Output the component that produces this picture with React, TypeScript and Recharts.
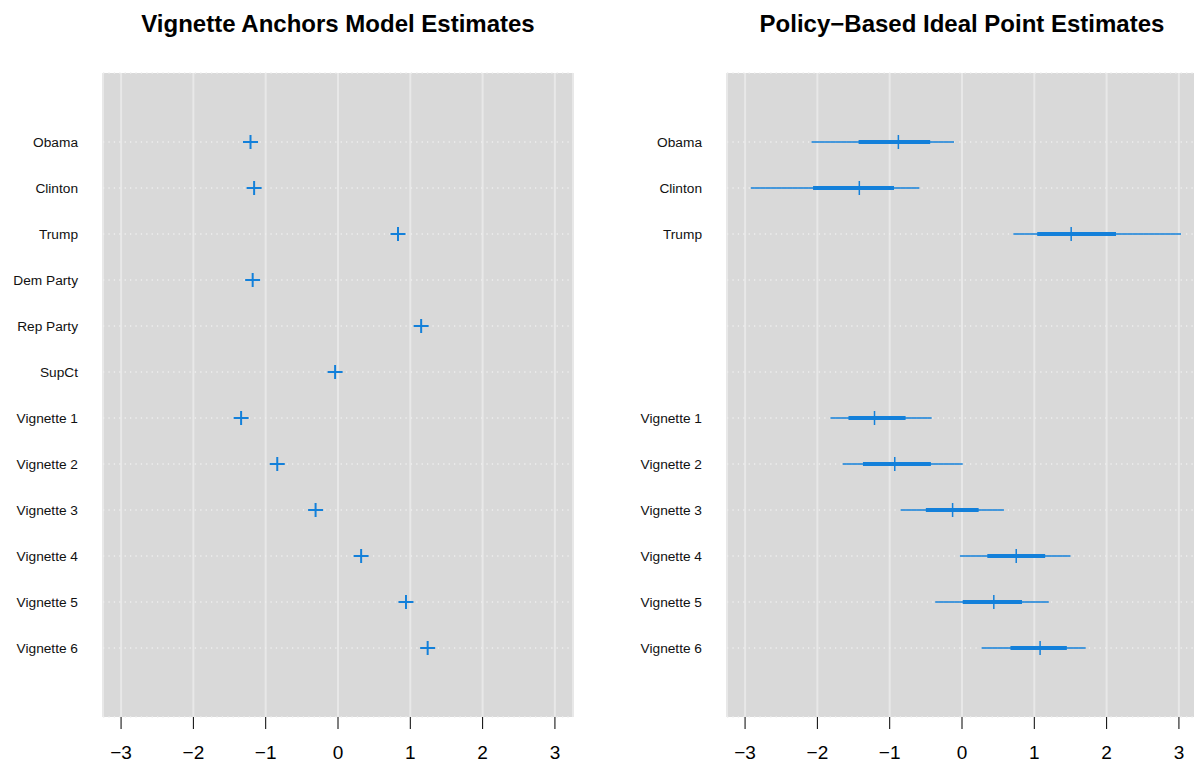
import React from 'react'
import { ComposedChart, Scatter, XAxis, YAxis, CartesianGrid, ErrorBar } from 'recharts'

const rows = [
  'Obama', 'Clinton', 'Trump', 'Dem Party', 'Rep Party', 'SupCt',
  'Vignette 1', 'Vignette 2', 'Vignette 3', 'Vignette 4', 'Vignette 5', 'Vignette 6',
]
const anchorEst = [-1.21, -1.16, 0.83, -1.18, 1.15, -0.04, -1.34, -0.84, -0.31, 0.32, 0.94, 1.24]

const policyRows = ['Obama', 'Clinton', 'Trump', 'Vignette 1', 'Vignette 2', 'Vignette 3', 'Vignette 4', 'Vignette 5', 'Vignette 6']
const policyEst = [-0.88, -1.42, 1.51, -1.21, -0.93, -0.13, 0.75, 0.44, 1.08]
const policyLo95 = [-2.08, -2.92, 0.71, -1.82, -1.65, -0.85, -0.03, -0.37, 0.27]
const policyHi95 = [-0.11, -0.59, 3.03, -0.42, 0.01, 0.58, 1.5, 1.2, 1.71]
const policyLo50 = [-1.43, -2.06, 1.04, -1.57, -1.37, -0.5, 0.35, 0.01, 0.67]
const policyHi50 = [-0.44, -0.94, 2.13, -0.78, -0.43, 0.23, 1.15, 0.83, 1.45]

const xTicks = [-3, -2, -1, 0, 1, 2, 3]
const rowTicks = rows.map((_, i) => i + 1)

const BLUE = '#1380DA'
const FONT = '"Liberation Sans", Arial, Helvetica, sans-serif'
const H = 767

const anchorData = rows.map((r, i) => ({ name: r, x: anchorEst[i], y: i + 1 }))
const policyData = policyRows.map((r, i) => ({
  name: r,
  x: policyEst[i],
  y: rows.indexOf(r) + 1,
  err95: [policyEst[i] - policyLo95[i], policyHi95[i] - policyEst[i]],
  err50: [policyEst[i] - policyLo50[i], policyHi50[i] - policyEst[i]],
}))

const fmtX = (v: number) => (v < 0 ? `\u2212${-v}` : `${v}`)

function Cross(props: any) {
  const { cx, cy } = props
  return (
    <g>
      <line x1={cx - 7.5} x2={cx + 7.5} y1={cy} y2={cy} stroke={BLUE} strokeWidth={2} />
      <line x1={cx} x2={cx} y1={cy - 7} y2={cy + 7} stroke={BLUE} strokeWidth={2} />
    </g>
  )
}

function Tick(props: any) {
  const { cx, cy } = props
  return <line x1={cx} x2={cx} y1={cy - 7} y2={cy + 7} stroke={BLUE} strokeWidth={1.5} />
}

function rowTick(axisWidth: number, shown: string[]) {
  return (p: any) => {
    const name = rows[p.payload.value - 1]
    if (!shown.includes(name)) return <g />
    return (
      <text x={axisWidth - 25} y={p.y} textAnchor="end" dominantBaseline="central"
        fontSize={13.7} fontFamily={FONT} fill="#111">{name}</text>
    )
  }
}

function Panel({ width, axisWidth, right, children, labels }: any) {
  return (
    <ComposedChart width={width} height={H} margin={{ top: 73, right, bottom: 0, left: 0 }}>
      <CartesianGrid horizontal={false} fill="#D9D9D9" stroke="#E8E8E8" strokeWidth={2} />
      <CartesianGrid vertical={false} stroke="#EEEEEE" strokeWidth={1.3} strokeDasharray="1.3 4.1" />
      <XAxis type="number" dataKey="x" domain={[-3.25, 3.25]} allowDataOverflow ticks={xTicks} interval={0}
        axisLine={false} tickSize={12} tickMargin={17} tickLine={{ stroke: '#000', strokeWidth: 1 }}
        tickFormatter={fmtX} height={50}
        tick={{ fontSize: 19, fontFamily: FONT, fill: '#000' }} />
      <YAxis type="number" dataKey="y" domain={[-0.5, 13.5]} allowDataOverflow reversed ticks={rowTicks} interval={0}
        axisLine={false} tickLine={false} width={axisWidth} tick={rowTick(axisWidth, labels)} />
      {children}
    </ComposedChart>
  )
}

export default function App() {
  return (
    <div style={{ position: 'absolute', left: 0, top: 0, width: 1194, height: H, overflow: 'hidden', background: '#fff' }}>
      <div style={{ position: 'absolute', left: 0, top: 0 }}>
        <Panel width={600} axisWidth={103} right={27} labels={rows}>
          <Scatter data={anchorData} shape={<Cross />} isAnimationActive={false} />
        </Panel>
      </div>
      <div style={{ position: 'absolute', left: 600, top: 0 }}>
        <Panel width={597} axisWidth={127} right={0} labels={policyRows}>
          <Scatter data={policyData} shape={<Tick />} isAnimationActive={false}>
            <ErrorBar dataKey="err95" direction="x" width={0} stroke={BLUE} strokeWidth={1.3} isAnimationActive={false} />
            <ErrorBar dataKey="err50" direction="x" width={0} stroke={BLUE} strokeWidth={3.8} isAnimationActive={false} />
          </Scatter>
        </Panel>
      </div>
      <svg width={1194} height={60} style={{ position: 'absolute', left: 0, top: 0 }}>
        <text x={338} y={31.7} textAnchor="middle" fontSize={24} fontWeight="bold" fontFamily={FONT} fill="#000">
          Vignette Anchors Model Estimates
        </text>
        <text x={962} y={31.7} textAnchor="middle" fontSize={24} fontWeight="bold" fontFamily={FONT} fill="#000">
          Policy{'\u2212'}Based Ideal Point Estimates
        </text>
      </svg>
    </div>
  )
}
